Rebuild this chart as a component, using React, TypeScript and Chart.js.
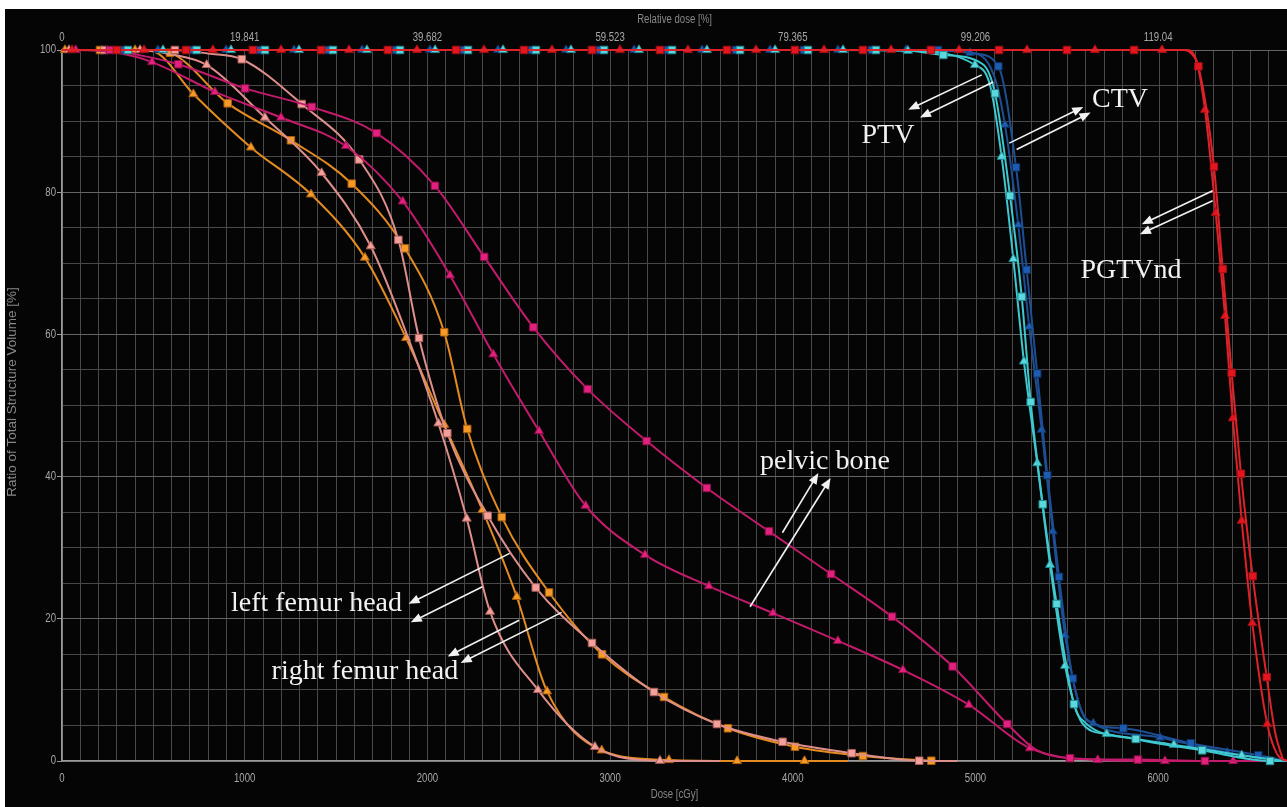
import React, { useEffect, useRef } from 'react';
import { Chart, registerables } from 'chart.js';

Chart.register(...registerables);

// [dose cGy, volume %, marker shown (1) or not (0)]
type Pt = [number, number, number];

const PGTV_SQ: Pt[] = [[0,100,0],[301,100,1],[679,100,1],[1045,100,1],[1418,100,1],[1784,100,1],[2157,100,1],[2529,100,1],[2901,100,1],[3273,100,1],[3640,100,1],[4012,100,1],[4384,100,1],[4756,100,1],[5129,100,1],[5501,100,1],[5868,100,1],[6140,100,0],[6192,99.2,0],[6220,97.7,1],[6305,83.6,1],[6353,69.2,1],[6402,54.6,1],[6453,40.4,1],[6517,26.0,1],[6594,11.8,1],[6640,4.0,0],[6685,0,0]];
const PGTV_TR: Pt[] = [[0,100,0],[55,100,1],[449,100,1],[826,100,1],[1199,100,1],[1571,100,1],[1943,100,1],[2310,100,1],[2682,100,1],[3054,100,1],[3426,100,1],[3799,100,1],[4171,100,1],[4538,100,1],[4910,100,1],[5282,100,1],[5654,100,1],[6021,100,1],[6155,100,0],[6205,98.8,0],[6256,91.6,1],[6315,77.1,1],[6366,62.6,1],[6408,48.2,1],[6457,33.8,1],[6515,19.4,1],[6597,5.2,1],[6650,1.0,0],[6705,0,0]];
const PTV_SQ: Pt[] = [[0,100,0],[361,100,1],[737,100,1],[1111,100,1],[1483,100,1],[1850,100,1],[2222,100,1],[2594,100,1],[2967,100,1],[3339,100,1],[3711,100,1],[4083,100,1],[4455,100,1],[4640,99.9,0],[4824,99.3,1],[5040,98.0,0],[5107,93.9,1],[5189,79.5,1],[5253,65.3,1],[5302,50.5,1],[5368,36.1,1],[5444,22.1,1],[5539,8.0,1],[5600,5.4,0],[5877,3.1,1],[6241,1.5,1],[6612,0,1],[6705,0,0]];
const PTV_TR: Pt[] = [[0,100,0],[553,100,1],[925,100,1],[1297,100,1],[1669,100,1],[2042,100,1],[2414,100,1],[2786,100,1],[3158,100,1],[3530,100,1],[3903,100,1],[4275,100,1],[4630,99.9,1],[4997,97.9,1],[5080,95.0,0],[5143,85.0,1],[5207,70.6,1],[5265,56.2,1],[5338,41.9,1],[5408,27.6,1],[5490,13.4,1],[5585,5.3,0],[5718,3.8,1],[6086,2.3,1],[6457,0.8,1],[6690,0,0]];
const CTV_SQ: Pt[] = [[0,100,0],[339,100,1],[712,100,1],[1084,100,1],[1456,100,1],[1828,100,1],[2200,100,1],[2573,100,1],[2945,100,1],[3317,100,1],[3689,100,1],[4061,100,1],[4433,100,1],[4795,100,1],[5000,99.5,0],[5125,97.7,1],[5222,83.5,1],[5280,69.1,1],[5338,54.5,1],[5393,40.2,1],[5457,25.9,1],[5532,11.6,1],[5620,5.6,0],[5809,4.6,1],[6178,2.5,1],[6548,0.8,1],[6705,0,0]];
const CTV_TR: Pt[] = [[0,100,0],[525,100,1],[898,100,1],[1270,100,1],[1642,100,1],[2014,100,1],[2386,100,1],[2759,100,1],[3131,100,1],[3503,100,1],[3875,100,1],[4247,100,1],[4620,100,1],[4970,99.6,1],[5100,96.5,0],[5161,89.5,1],[5234,75.4,1],[5294,61.1,1],[5362,46.6,1],[5423,32.3,1],[5490,17.7,1],[5580,7.0,0],[5645,5.3,1],[6010,3.3,1],[6378,1.2,1],[6690,0,0]];
const PELVIC_SQ: Pt[] = [[0,100,0],[263,100,1],[420,99.3,0],[637,98.0,1],[1002,94.6,1],[1367,92.0,1],[1722,88.3,1],[2041,80.9,1],[2311,70.9,1],[2580,61.0,1],[2877,52.3,1],[3200,45.0,1],[3529,38.4,1],[3870,32.3,1],[4209,26.3,1],[4543,20.3,1],[4875,13.3,1],[5174,5.2,1],[5330,1.6,0],[5517,0.4,1],[5889,0.2,1],[6256,0,1],[6705,0,0]];
const PELVIC_TR: Pt[] = [[0,100,0],[75,100,1],[300,99.6,0],[493,98.3,1],[837,94.1,1],[1199,90.5,1],[1554,86.5,1],[1865,78.7,1],[2124,68.3,1],[2361,57.2,1],[2611,46.4,1],[2866,35.9,1],[3191,29.0,1],[3541,24.6,1],[3892,20.8,1],[4247,16.9,1],[4603,12.8,1],[4964,7.9,1],[5298,1.8,1],[5669,0.14,1],[6037,0,1],[6410,0,1],[6705,0,0]];
const LEFT_FEMUR_SQ: Pt[] = [[0,100,0],[232,100,1],[618,100,1],[800,99.5,0],[984,98.7,1],[1312,92.4,1],[1627,84.6,1],[1841,73.3,1],[1954,59.5,1],[2109,46.1,1],[2330,34.5,1],[2593,24.4,1],[2901,16.6,1],[3240,9.7,1],[3585,5.2,1],[3944,2.7,1],[4322,1.1,1],[4692,0.04,1],[4900,0,0]];
const LEFT_FEMUR_TR: Pt[] = [[0,100,0],[38,100,1],[427,100,1],[600,99.4,0],[792,97.9,1],[1111,90.5,1],[1421,82.7,1],[1690,72.4,1],[1880,60.5,0],[2060,47.5,1],[2215,34.1,1],[2343,21.0,1],[2605,10.0,1],[2917,2.0,1],[3273,0.04,1],[3600,0,0]];
const RIGHT_FEMUR_SQ: Pt[] = [[0,100,0],[208,100,1],[450,100,0],[591,99.6,1],[907,92.5,1],[1253,87.3,1],[1586,81.2,1],[1877,72.1,1],[2092,60.3,1],[2218,46.7,1],[2407,34.3,1],[2666,23.7,1],[2956,15.0,1],[3295,9.0,1],[3645,4.6,1],[4012,2.0,1],[4384,0.7,1],[4758,0.04,1],[4871,0,0]];
const RIGHT_FEMUR_TR: Pt[] = [[0,100,0],[16,100,1],[400,100,1],[500,99.8,0],[719,93.8,1],[1034,86.3,1],[1363,79.7,1],[1658,70.8,1],[1883,59.5,1],[2092,47.3,1],[2301,35.3,1],[2489,23.1,1],[2655,9.8,1],[2954,1.5,1],[3322,0.14,1],[3695,0,1],[4064,0,1],[4300,0,0]];

const DOSE_MAX = 6705;
const X_TICK_VALUES = [0, 1000, 2000, 3000, 4000, 5000, 6000];
const TOP_TICK_LABELS = ['0', '19.841', '39.682', '59.523', '79.365', '99.206', '119.04'];
const Y_TICK_VALUES = [0, 20, 40, 60, 80, 100];

const X_TITLE = 'Dose [cGy]';
const TOP_TITLE = 'Relative dose [%]';
const Y_TITLE = 'Ratio of Total Structure Volume [%]';

// annotation texts: [text, dose, volume] (baseline position in data units)
const LABELS: [string, number, number][] = [
  ['PTV', 4521, 86.9],
  ['CTV', 5791, 92.0],
  ['PGTVnd', 5851, 67.9],
  ['pelvic bone', 4176, 41.0],
  ['left femur head', 1393, 21.1],
  ['right femur head', 1658, 11.5],
];
// arrows: [fromDose, fromVol, toDose, toVol]
const ARROWS: [number, number, number, number][] = [
  [5034, 96.5, 4632, 91.6],
  [5097, 95.5, 4696, 90.5],
  [5185, 86.9, 5590, 92.0],
  [5225, 86.0, 5630, 91.2],
  [6298, 80.2, 5910, 75.5],
  [6298, 78.8, 5900, 74.1],
  [3943, 32.1, 4140, 40.5],
  [3766, 21.7, 4207, 39.8],
  [2450, 29.2, 1897, 22.1],
  [2301, 24.5, 1909, 19.5],
  [2502, 19.8, 2111, 14.7],
  [2735, 20.9, 2182, 13.8],
];

const SANS = '"Liberation Sans", Arial, sans-serif';
const TICK_COLOR = '#a8a8a8';
const TITLE_COLOR = '#888888';
const SQUEEZE = 0.8;

function ds(label: string, pts: Pt[], line: string, fill: string, edge: string, style: 'rect' | 'triangle') {
  const r = style === 'rect' ? 5.3 : 5.2;
  return {
    label,
    data: pts.map(([x, y]) => ({ x, y })),
    borderColor: line,
    borderWidth: 2,
    backgroundColor: fill,
    pointStyle: style,
    pointBackgroundColor: fill,
    pointBorderColor: edge,
    pointBorderWidth: 1,
    pointRadius: (c: any) => (pts[c.dataIndex] && pts[c.dataIndex][2] ? r : 0),
    pointHoverRadius: 0,
    cubicInterpolationMode: 'monotone' as const,
    fill: false,
    clip: false as const,
  };
}

function squeezedText(ctx: any, text: string, x: number, y: number, align: string, rotate = 0) {
  ctx.save();
  ctx.translate(x, y);
  if (rotate) ctx.rotate(rotate);
  else ctx.scale(SQUEEZE, 1);
  ctx.textAlign = align;
  ctx.fillText(text, 0, 0);
  ctx.restore();
}

const bgPlugin = {
  id: 'bg',
  beforeDraw(chart: any) {
    const { ctx, width, height } = chart;
    ctx.save();
    ctx.fillStyle = '#060505';
    ctx.fillRect(0, 0, width, height);
    ctx.restore();
  },
};

const axisTextPlugin = {
  id: 'axisText',
  afterDraw(chart: any) {
    const { ctx, chartArea } = chart;
    const xs = chart.scales.x;
    const ys = chart.scales.y;
    ctx.save();
    ctx.textBaseline = 'middle';
    ctx.fillStyle = TICK_COLOR;
    ctx.font = `12px ${SANS}`;
    X_TICK_VALUES.forEach((v, i) => {
      const px = xs.getPixelForValue(v);
      squeezedText(ctx, String(v), px, chartArea.bottom + 18, 'center');
      squeezedText(ctx, TOP_TICK_LABELS[i], px, chartArea.top - 12, 'center');
    });
    Y_TICK_VALUES.forEach((v) => {
      squeezedText(ctx, String(v), chartArea.left - 6, ys.getPixelForValue(v), 'right');
    });
    ctx.fillStyle = TITLE_COLOR;
    ctx.font = `12px ${SANS}`;
    const cx = (chartArea.left + chartArea.right) / 2;
    squeezedText(ctx, TOP_TITLE, cx, chartArea.top - 30, 'center');
    squeezedText(ctx, X_TITLE, cx, chartArea.bottom + 34, 'center');
    ctx.font = `13.5px ${SANS}`;
    squeezedText(ctx, Y_TITLE, 7.5, chartArea.top + 342, 'center', -Math.PI / 2);
    ctx.restore();
  },
};

const annotatePlugin = {
  id: 'annotate',
  afterDatasetsDraw(chart: any) {
    const { ctx } = chart;
    const x = chart.scales.x;
    const y = chart.scales.y;
    ctx.save();
    ctx.strokeStyle = '#f2f2f2';
    ctx.fillStyle = '#f2f2f2';
    ctx.lineWidth = 1.6;
    for (const [d0, v0, d1, v1] of ARROWS) {
      const x0 = x.getPixelForValue(d0);
      const y0 = y.getPixelForValue(v0);
      const x1 = x.getPixelForValue(d1);
      const y1 = y.getPixelForValue(v1);
      const a = Math.atan2(y1 - y0, x1 - x0);
      const L = 11;
      const W = 4.5;
      const c = Math.cos(a);
      const s = Math.sin(a);
      ctx.beginPath();
      ctx.moveTo(x0, y0);
      ctx.lineTo(x1 - c * L * 0.7, y1 - s * L * 0.7);
      ctx.stroke();
      ctx.beginPath();
      ctx.moveTo(x1, y1);
      ctx.lineTo(x1 - c * L + s * W, y1 - s * L - c * W);
      ctx.lineTo(x1 - c * L - s * W, y1 - s * L + c * W);
      ctx.closePath();
      ctx.fill();
    }
    ctx.font = '28px "Liberation Serif", "DejaVu Serif", serif';
    ctx.textAlign = 'center';
    ctx.textBaseline = 'alphabetic';
    for (const [t, d, v] of LABELS) {
      ctx.fillText(t, x.getPixelForValue(d), y.getPixelForValue(v));
    }
    ctx.restore();
  },
};

export default function App() {
  const ref = useRef<HTMLCanvasElement | null>(null);

  useEffect(() => {
    if (!ref.current) return;
    const chart = new Chart(ref.current, {
      type: 'line',
      data: {
        datasets: [
          ds('PGTVnd', PGTV_SQ, '#de2229', '#e5151d', '#9a1015', 'rect'),
          ds('PGTVnd', PGTV_TR, '#de2229', '#e5151d', '#9a1015', 'triangle'),
          ds('PTV', PTV_SQ, '#3ec8cf', '#5ad8de', '#1f8a90', 'rect'),
          ds('PTV', PTV_TR, '#3ec8cf', '#5ad8de', '#1f8a90', 'triangle'),
          ds('CTV', CTV_SQ, '#1d4f96', '#1d5cb0', '#0e2f60', 'rect'),
          ds('CTV', CTV_TR, '#1d4f96', '#1d5cb0', '#0e2f60', 'triangle'),
          ds('pelvic bone', PELVIC_SQ, '#c31b6c', '#e2207d', '#8a1048', 'rect'),
          ds('pelvic bone', PELVIC_TR, '#c31b6c', '#e2207d', '#8a1048', 'triangle'),
          ds('left femur head', LEFT_FEMUR_SQ, '#de8f8b', '#f4a09a', '#a85e5a', 'rect'),
          ds('left femur head', LEFT_FEMUR_TR, '#de8f8b', '#f4a09a', '#a85e5a', 'triangle'),
          ds('right femur head', RIGHT_FEMUR_SQ, '#e48b22', '#f59a26', '#a85e10', 'rect'),
          ds('right femur head', RIGHT_FEMUR_TR, '#e48b22', '#f59a26', '#a85e10', 'triangle'),
        ],
      },
      options: {
        responsive: false,
        animation: false,
        events: [],
        layout: { padding: 0 },
        plugins: { legend: { display: false }, tooltip: { enabled: false } },
        scales: {
          x: {
            type: 'linear',
            position: 'bottom',
            min: 0,
            max: DOSE_MAX,
            ticks: { display: false, stepSize: 100, autoSkip: false },
            grid: {
              color: (c: any) => (c.tick && c.tick.value % 1000 === 0 ? '#6a6a6a' : '#484848'),
              lineWidth: 1,
              drawTicks: false,
            },
            border: { color: '#9a9a9a', width: 1.5 },
            title: { display: false },
            afterFit: (s: any) => { s.height = 46; },
          },
          x2: {
            type: 'linear',
            position: 'top',
            min: 0,
            max: DOSE_MAX,
            ticks: { display: false },
            grid: { display: false, drawTicks: false },
            border: { display: false },
            title: { display: false },
            afterFit: (s: any) => { s.height = 41; },
          },
          y: {
            type: 'linear',
            min: 0,
            max: 100,
            ticks: { display: false, stepSize: 5, autoSkip: false },
            grid: {
              color: (c: any) => (c.tick && c.tick.value % 20 === 0 ? '#646464' : '#484848'),
              lineWidth: 1,
              tickLength: 5,
              tickColor: (c: any) => (c.tick && c.tick.value % 20 === 0 ? '#9a9a9a' : 'rgba(0,0,0,0)'),
            },
            border: { color: '#9a9a9a', width: 1.5 },
            title: { display: false },
            afterFit: (s: any) => { s.width = 57; },
          },
        },
      } as any,
      plugins: [bgPlugin, annotatePlugin, axisTextPlugin],
    });
    return () => chart.destroy();
  }, []);

  return (
    <div style={{ position: 'absolute', left: 5, top: 9, width: 1282, height: 798, overflow: 'hidden' }}>
      <canvas ref={ref} width={1282} height={798} style={{ display: 'block' }} />
    </div>
  );
}
